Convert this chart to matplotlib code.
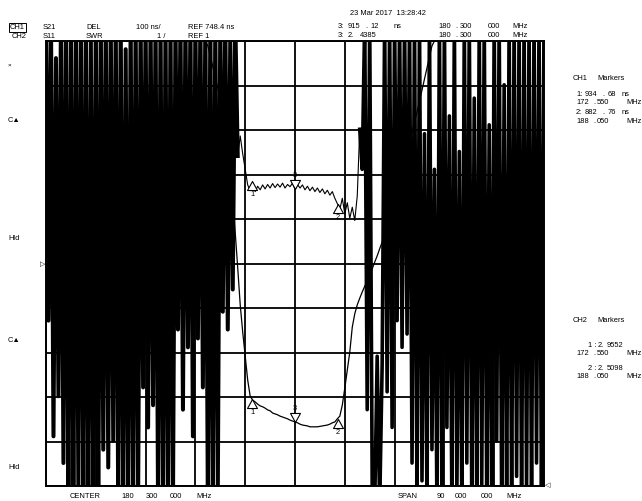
#network analyzer screen: S21 group delay (CH1) and S11 SWR (CH2)
import numpy as np
import matplotlib.pyplot as plt
from matplotlib.path import Path

plt.rcParams['font.family'] = ['Liberation Sans', 'DejaVu Sans']

#sweep settings: center 180.3 MHz, span 90 MHz, 201 points
center_mhz = 180.3
span_mhz = 90.0
freq = np.linspace(center_mhz - span_mhz / 2, center_mhz + span_mhz / 2, 201)

#CH1 delay scale: 100 ns/div, ref 748.4 ns at center line
ch1_ref = 748.4
ch1_div = 100.0
#CH2 SWR scale: 1/div, ref 1 at bottom line
ch2_ref = 1.0
ch2_div = 1.0

#CH1 group delay readings (ns), values outside the screen are clipped
delay_ns = [
    1300, 620, 1300, 360, 1210, 450, 1300, 300, 1300,
    200, 1300, 200, 1300, 240, 1300, 200, 1300, 200, 1260, 200, 1300, 200,
    1300, 330, 1300, 290, 1300, 350, 1300,
    200, 1300, 200, 1230, 200, 1300, 200, 1300, 220,
    1300, 470, 1300, 380, 1300, 430, 1300,
    200, 1300, 200, 1300, 200, 1300, 210, 1300,
    600, 1300, 420, 1300, 560, 1300, 360, 1300, 580, 1300, 470, 1300,
    200, 1300, 200, 1300, 240,
    1300, 640, 1300, 600, 1250, 690, 1300, 990, 1035, 995,
    960, 925, 912, 930, 910, 922, 914, 925, 916, 926, 918, 928, 919, 927, 920, 929, 918, 926, 921, 929,
    915, 926, 918, 925, 914, 922, 912, 920, 910, 918, 908, 916, 905, 913, 902, 910, 895, 883,
    870, 895, 860, 885, 850, 875, 845, 900, 1050, 960,
    1300, 420, 1300, 250, 200, 540, 200, 520, 1300, 460, 1300, 380, 1300, 620, 1300, 560, 1300, 590, 1300, 300, 1300,
    200, 1300, 260, 1040, 200, 1300, 330, 960, 200, 1300,
    200, 1300, 380, 1080, 200, 1300, 220, 1000, 200, 1300,
    300, 1300, 200, 1120, 200, 1300, 250, 1300, 200, 1060,
    200, 1300, 350, 1300, 200, 1150, 200, 1300, 200, 1300,
    270, 1300, 200, 1300, 230, 1300, 200, 1300, 300, 1300,
    200, 1300,
]

#CH2 SWR readings, stopband sits at the top of the screen (11)
swr = [11.0] * 65 + [
    10.89, 10.66, 10.42, 10.17, 9.94, 9.67, 9.22, 8.78, 8.33, 7.88,
    7.43, 6.69, 5.90, 5.07, 4.46, 3.92, 3.38, 3.02, 2.93,
    2.89, 2.84, 2.80, 2.78, 2.75, 2.71, 2.69, 2.64, 2.62, 2.60,
    2.57, 2.55, 2.53, 2.51, 2.48, 2.46, 2.44, 2.42, 2.39, 2.37,
    2.36, 2.35, 2.33, 2.33, 2.33, 2.33, 2.34, 2.35, 2.36, 2.37,
    2.39, 2.42, 2.44, 2.51, 2.57,
    2.82, 3.20, 3.61, 4.01, 4.57, 4.87, 5.07, 5.22, 5.36, 5.49,
    5.61, 5.72, 5.88, 6.03, 6.17, 6.33, 6.48, 6.64, 6.82, 7.02,
    7.22, 7.43, 7.63, 7.83, 8.01, 8.26, 8.48, 8.71, 8.96, 9.18,
    9.40, 9.65, 9.90, 10.15, 10.39, 10.64, 10.89,
] + [11.0] * 45

#markers
marker_names = ['1', '2', '3']
marker_freq = [172.55, 188.05, 180.3]
ch1_marker_ns = [934.68, 882.76, 915.12]
ch2_marker_swr = [2.9552, 2.5098, 2.4385]

assert len(delay_ns) == len(freq) and len(swr) == len(freq)

fig = plt.figure(figsize=(6.42, 5.01), dpi=100)
ax = fig.add_axes([46 / 642, 1 - 486 / 501, 498 / 642, 445 / 501])
ax.set_xlim(freq[0], freq[-1])
ax.set_ylim(ch1_ref - 5 * ch1_div, ch1_ref + 5 * ch1_div)
ax.set_xticks(freq[0] + span_mhz / 10 * np.arange(11))
ax.set_yticks(ch1_ref + ch1_div * np.arange(-5, 6))
ax.tick_params(length=0, labelbottom=False, labelleft=False)
ax.grid(True, color='black', lw=1.3)
for s in ax.spines.values():
    s.set_linewidth(1.4)

ax2 = ax.twinx()
ax2.set_ylim(ch2_ref, ch2_ref + 10 * ch2_div)
ax2.set_axis_off()

#delay trace (noisy stopband parts drawn heavy, the screen shows them nearly solid)
delay = np.array(delay_ns)
ax.plot(freq, delay, color='black', lw=0.8)
ax.plot(freq[:78], delay[:78], color='black', lw=2.9)
ax.plot(freq[126:], delay[126:], color='black', lw=2.6)

ax2.plot(freq, swr, color='black', lw=0.9)

#marker triangles, apex on the trace
tri_up = Path([(0, 0), (-0.55, -1), (0.55, -1), (0, 0)],
              [Path.MOVETO, Path.LINETO, Path.LINETO, Path.CLOSEPOLY])
tri_dn = Path([(0, 0), (-0.55, 1), (0.55, 1), (0, 0)],
              [Path.MOVETO, Path.LINETO, Path.LINETO, Path.CLOSEPOLY])
for a, vals in [(ax, ch1_marker_ns), (ax2, ch2_marker_swr)]:
    for name, f, v in zip(marker_names, marker_freq, vals):
        down = name == '3'
        a.plot([f], [v], marker=tri_dn if down else tri_up, ms=13,
               mfc='white', mec='black', mew=0.8, zorder=5)
        a.annotate(name, (f, v), xytext=(0, 10 if down else -10),
                   textcoords='offset points', ha='center', va='center',
                   fontsize=5.4, zorder=6)

fs = 5.4


def put(x, y, s, **kw):
    kw.setdefault('fontsize', fs)
    fig.text(x / 642, 1 - y / 501, s, ha='left', va='baseline', **kw)


def put_row(y, parts, **kw):
    for x, s in parts:
        put(x, y, s, **kw)


#header
put(10, 29, 'CH1', bbox=dict(boxstyle='square,pad=0.12', fc='white', ec='black', lw=0.7))
put(12, 38, 'CH2')
put_row(29, [(43, 'S21'), (86, 'DEL'), (136, '100 ns/'), (188, 'REF 748.4 ns')])
put_row(38, [(43, 'S11'), (86, 'SWR'), (157, '1 /'), (188, 'REF 1')])
put(350, 15, '23 Mar 2017  13:28:42')
put_row(28, [(338, '3:'), (348, '915'), (365, '.'), (370, '12'), (394, 'ns'),
             (438, '180'), (455, '.'), (460, '300'), (488, '000'), (512, 'MHz')])
put_row(37, [(338, '3:'), (348, '2.'), (360, '4385'),
             (438, '180'), (455, '.'), (460, '300'), (488, '000'), (512, 'MHz')])

#marker tables on the right
put_row(80, [(573, 'CH1'), (597, 'Markers')])
put_row(96, [(576, '1:'), (585, '934'), (602, '.'), (608, '68'), (622, 'ns')])
put_row(104, [(576, '172'), (593, '.'), (597, '550'), (626, 'MHz')])
put_row(114, [(576, '2:'), (585, '882'), (602, '.'), (608, '76'), (622, 'ns')])
put_row(123, [(576, '188'), (593, '.'), (597, '050'), (626, 'MHz')])

put_row(322, [(573, 'CH2'), (597, 'Markers')])
put_row(347, [(588, '1 :'), (598, '2.'), (607, '9552')])
put_row(355, [(576, '172'), (593, '.'), (597, '550'), (626, 'MHz')])
put_row(370, [(588, '2 :'), (598, '2.'), (607, '5098')])
put_row(378, [(576, '188'), (593, '.'), (597, '050'), (626, 'MHz')])

#footer
put_row(498, [(70, 'CENTER'), (121, '180'), (146, '300'), (170, '000'), (196, 'MHz'),
              (398, 'SPAN'), (437, '90'), (455, '000'), (481, '000'), (506, 'MHz')])

#softkey status on the left
put(8, 67, '\u00d7', fontsize=4.5)
put(8, 122, 'C\u25b2')
put(8, 240, 'Hld')
put(8, 342, 'C\u25b2')
put(8, 469, 'Hld')
fig.text(43 / 642, 1 - 265 / 501, '\u25b7', fontsize=5, ha='center', va='center')
fig.text(548 / 642, 1 - 486 / 501, '\u25c1', fontsize=5, ha='center', va='center')

fig.savefig('out.png', dpi=100, facecolor='white')
